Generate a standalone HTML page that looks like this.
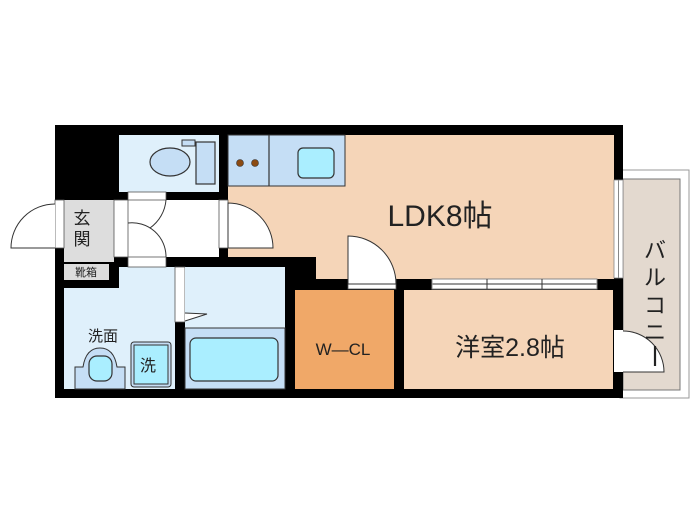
<!DOCTYPE html>
<html><head><meta charset="utf-8"><style>
html,body{margin:0;padding:0;background:#fff;}
svg{display:block;}
text{font-family:"Liberation Sans","Noto Sans CJK JP",sans-serif;fill:#222;}
</style></head><body>
<svg width="700" height="525" viewBox="0 0 700 525" xmlns="http://www.w3.org/2000/svg">
<rect x="620" y="170" width="69" height="228" fill="#fff" stroke="#999" stroke-width="1"/>
<rect x="623" y="179" width="57" height="211" fill="#e3d9cf" stroke="#777" stroke-width="1"/>
<rect x="55" y="125" width="568" height="273" fill="#000"/>
<rect x="119" y="135" width="100" height="57" fill="#dff0fb"/>
<ellipse cx="170" cy="162" rx="20" ry="14" fill="#c5def5" stroke="#333" stroke-width="1.2"/>
<rect x="196" y="142" width="19" height="42" fill="#c5def5" stroke="#333" stroke-width="1.2"/>
<rect x="182" y="140" width="13" height="6" fill="#c5def5" stroke="#333" stroke-width="1"/>
<polygon points="228,135 614,135 614,279 316,279 316,257 228,257" fill="#f5d5b8"/>
<rect x="228" y="135" width="117" height="51" fill="#c5def5" stroke="#333" stroke-width="1"/>
<line x1="269" y1="135" x2="269" y2="186" stroke="#333" stroke-width="1.2"/>
<circle cx="240" cy="163" r="3.5" fill="#8b4a12" stroke="#333" stroke-width="0.6"/>
<circle cx="255" cy="163" r="3.5" fill="#8b4a12" stroke="#333" stroke-width="0.6"/>
<rect x="298" y="148" width="36" height="30" rx="5" fill="#aaeeff" stroke="#333" stroke-width="1.2"/>
<rect x="128" y="200" width="91" height="57" fill="#fff"/>
<rect x="64" y="200" width="50" height="62" fill="#ddd"/>
<rect x="64" y="264" width="45" height="16" fill="#ddd"/>
<polygon points="119,267 175,267 175,389 64,389 64,288 119,288" fill="#dff0fb"/>
<rect x="175" y="267" width="10" height="55" fill="#fff" stroke="#555" stroke-width="0.8"/>
<rect x="185" y="267" width="100" height="61" fill="#dff0fb"/>
<rect x="185" y="328" width="100" height="61" fill="#c5def5" stroke="#333" stroke-width="1"/>
<rect x="190" y="338" width="88" height="43" rx="6" fill="#aaeeff" stroke="#333" stroke-width="1.2"/>
<polyline points="185,313 207,314 185,321" fill="#fff" stroke="#333" stroke-width="1"/>
<path d="M75,389 L75,367 L83,367 Q86,348 100,348 Q114,348 117,367 L125,367 L125,389 Z" fill="#c5def5" stroke="#333" stroke-width="1"/>
<rect x="89" y="356" width="23" height="25" rx="8" fill="#aaeeff" stroke="#333" stroke-width="1.2"/>
<rect x="131" y="342" width="40" height="45" rx="3" fill="#c5def5" stroke="#333" stroke-width="1"/>
<rect x="134" y="345" width="34" height="39" fill="#aaeeff" stroke="#333" stroke-width="1"/>
<rect x="295" y="290" width="99" height="99" fill="#f0a868"/>
<rect x="404" y="290" width="209" height="99" fill="#f5d5b8"/>
<rect x="432" y="279" width="165" height="10" fill="#fff" stroke="#888" stroke-width="1"/>
<line x1="432" y1="284" x2="597" y2="284" stroke="#999" stroke-width="2"/>
<line x1="487" y1="279" x2="487" y2="289" stroke="#333" stroke-width="1"/>
<line x1="542" y1="279" x2="542" y2="289" stroke="#333" stroke-width="1"/>
<rect x="614" y="180" width="9" height="98" fill="#fff" stroke="#888" stroke-width="0.8"/>
<line x1="618.5" y1="180" x2="618.5" y2="278" stroke="#888" stroke-width="1"/>
<rect x="614" y="330" width="9" height="42" fill="#fff"/>
<path d="M623,331 A41,41 0 0 1 664,372 L623,372" fill="#fff" stroke="#333" stroke-width="1"/>
<rect x="55" y="200" width="9" height="48" fill="#fff" stroke="#555" stroke-width="0.8"/>
<path d="M55,204 A44,44 0 0 0 11,248 L55,248" fill="#fff" stroke="#333" stroke-width="1"/>
<rect x="114" y="200" width="14" height="57" fill="#fff" stroke="#555" stroke-width="0.8"/>
<rect x="128" y="192" width="38" height="8" fill="#fff" stroke="#555" stroke-width="0.8"/>
<path d="M166,200 A38,38 0 0 1 150,228" fill="none" stroke="#333" stroke-width="1"/>
<rect x="128" y="257" width="38" height="10" fill="#fff" stroke="#555" stroke-width="0.8"/>
<path d="M128,223 A34,34 0 0 1 166,257" fill="none" stroke="#333" stroke-width="1"/>
<rect x="219" y="200" width="9" height="48" fill="#fff" stroke="#555" stroke-width="0.8"/>
<path d="M228,203 A45,45 0 0 1 273,248 L228,248 Z" fill="#fff" stroke="#333" stroke-width="1"/>
<rect x="348" y="279" width="48" height="10" fill="#fff" stroke="#555" stroke-width="0.8"/>
<path d="M348,236 A48,48 0 0 1 396,284 L348,284 Z" fill="#fff" stroke="#333" stroke-width="1"/>
<text x="440" y="226" font-size="30" text-anchor="middle">LDK8帖</text>
<text x="510" y="356" font-size="25" text-anchor="middle">洋室2.8帖</text>
<text x="343" y="355" font-size="17" text-anchor="middle">W―CL</text>
<text x="82" y="224" font-size="17" text-anchor="middle">玄</text>
<text x="82" y="245" font-size="17" text-anchor="middle">関</text>
<text x="86" y="276" font-size="11" text-anchor="middle">靴箱</text>
<text x="103" y="341" font-size="15" text-anchor="middle">洗面</text>
<text x="148" y="371" font-size="16" text-anchor="middle">洗</text>
<text x="655" y="258" font-size="22" text-anchor="middle">バ</text>
<text x="655" y="285" font-size="22" text-anchor="middle">ル</text>
<text x="655" y="313" font-size="22" text-anchor="middle">コ</text>
<text x="655" y="340" font-size="22" text-anchor="middle">ニ</text>
<line x1="655" y1="346" x2="655" y2="366" stroke="#222" stroke-width="2.2"/>
</svg>
</body></html>
